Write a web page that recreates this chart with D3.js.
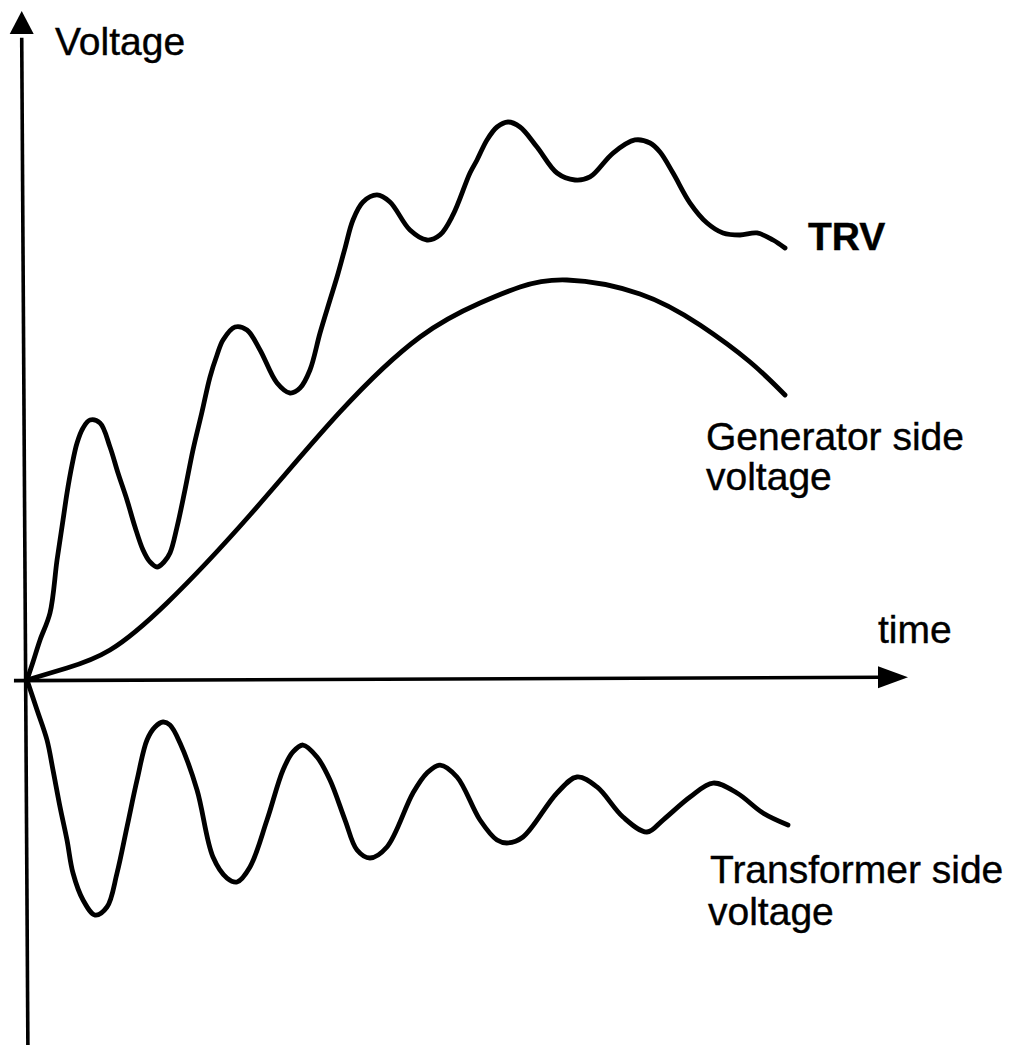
<!DOCTYPE html>
<html>
<head>
<meta charset="utf-8">
<script src="https://cdn.jsdelivr.net/npm/d3@7"></script>
<style>
  html, body { margin: 0; padding: 0; background: #fff; }
  text { font-family: "Liberation Sans", Arial, Helvetica, sans-serif; fill: #000; stroke: #000; stroke-width: 0.4px; }
</style>
</head>
<body>
<script>
var width = 1014;
var height = 1045;

// time axis runs 0..100 (arrow tip), voltage axis runs 0..100 (arrow tip)
var trvTime = [0, 0.68, 1.48, 2.61, 3.41, 4.09, 4.54, 5.11, 5.68, 6.36, 7.15, 8.29, 9.42, 10.33, 11.35, 12.26, 13.17, 13.96, 14.76, 15.55, 16.23, 17.03, 17.93, 18.84, 19.86, 20.77, 21.57, 22.25, 23.61, 24.97, 26.45, 28.38, 29.85, 30.99, 32.12, 33.26, 34.39, 35.19, 36.10, 37.00, 38.14, 39.73, 41.20, 43.47, 45.40, 46.88, 48.35, 50.28, 51.08, 52.21, 53.35, 54.60, 55.96, 57.89, 60.16, 62.20, 63.90, 66.52, 69.01, 70.72, 71.85, 73.33, 75.26, 77.19, 79.00, 80.93, 82.86, 84.68, 86.04];
var trvVolt = [0, 2.69, 5.98, 10.01, 17.94, 23.92, 27.95, 32.14, 35.43, 37.67, 38.86, 38.42, 34.83, 30.94, 26.91, 22.87, 19.43, 17.64, 16.89, 17.64, 18.98, 22.87, 28.40, 34.38, 40.06, 45.29, 48.58, 50.82, 52.77, 52.32, 49.33, 44.39, 42.90, 43.65, 46.34, 51.87, 56.80, 60.24, 64.57, 68.76, 71.45, 72.50, 71.45, 67.26, 65.77, 66.52, 69.51, 75.78, 77.73, 80.72, 82.66, 83.41, 82.66, 79.67, 75.78, 74.74, 75.19, 78.77, 80.72, 80.27, 78.92, 75.78, 71.30, 68.31, 66.82, 66.52, 66.82, 65.77, 64.57];

var genTime = [0, 4.54, 9.42, 15.89, 25.31, 35.53, 44.61, 51.42, 55.96, 61.29, 69.58, 76.39, 82.07, 86.04];
var genVolt = [0, 1.79, 4.48, 11.51, 24.66, 40.06, 51.27, 56.35, 58.74, 59.79, 57.70, 53.06, 47.53, 42.60];

var trfTime = [0, 1.14, 2.27, 2.95, 3.75, 4.54, 5.22, 6.36, 7.72, 9.08, 10.22, 11.35, 12.49, 13.62, 14.53, 15.44, 16.23, 17.37, 19.30, 21.11, 22.70, 23.84, 25.31, 27.24, 29.06, 30.19, 31.33, 32.92, 34.39, 36.10, 37.46, 38.93, 40.86, 43.81, 45.40, 46.88, 48.81, 51.42, 53.35, 54.60, 56.30, 60.16, 62.43, 64.70, 67.65, 70.37, 72.19, 75.26, 77.87, 80.59, 83.54, 86.38];
var trfVolt = [0, -4.48, -8.97, -13.45, -18.98, -23.92, -28.85, -32.88, -35.13, -33.93, -28.85, -21.97, -14.95, -8.97, -7.03, -6.28, -6.73, -9.42, -16.44, -26.46, -29.60, -30.19, -27.95, -20.93, -13.45, -10.76, -9.72, -11.51, -14.95, -20.93, -25.41, -26.61, -24.96, -16.89, -13.90, -12.71, -14.50, -20.93, -23.92, -24.36, -23.47, -16.89, -14.50, -15.99, -20.48, -22.72, -20.93, -17.49, -15.40, -16.89, -19.88, -21.67];

var svg = d3.select("body").append("svg")
    .attr("width", width)
    .attr("height", height);

var x = d3.scaleLinear().domain([0, 100]).range([27, 908]);
var y = d3.scaleLinear().domain([0, 100]).range([680, 11]);

function zip(ts, vs) {
    return ts.map(function (t, i) { return {t: t, v: vs[i]}; });
}

var wavy = d3.line()
    .x(function (d) { return x(d.t); })
    .y(function (d) { return y(d.v); })
    .curve(d3.curveCatmullRom.alpha(0.5));

var smooth = d3.line()
    .x(function (d) { return x(d.t); })
    .y(function (d) { return y(d.v); })
    .curve(d3.curveNatural);

// axes
var axes = svg.append("g").attr("class", "axes");
axes.append("line")
    .attr("x1", x(-1.48)).attr("y1", y(-0.1))
    .attr("x2", x(97)).attr("y2", y(0.4))
    .attr("stroke", "#000").attr("stroke-width", 3.6);
axes.append("line")
    .attr("x1", x(-0.6)).attr("y1", y(96))
    .attr("x2", x(0.1)).attr("y2", y(-54.6))
    .attr("stroke", "#000").attr("stroke-width", 3.6);

// arrow heads
var tipX = [x(100), y(0.4)];
axes.append("path")
    .attr("d", "M" + tipX[0] + "," + tipX[1] + " L" + (tipX[0] - 30) + "," + (tipX[1] - 11) +
        " L" + (tipX[0] - 30) + "," + (tipX[1] + 11) + " Z")
    .attr("fill", "#000");
var tipY = [x(-0.6), y(100)];
axes.append("path")
    .attr("d", "M" + tipY[0] + "," + tipY[1] + " L" + (tipY[0] - 12) + "," + (tipY[1] + 23) +
        " L" + (tipY[0] + 12) + "," + (tipY[1] + 23) + " Z")
    .attr("fill", "#000");

// curves
var curves = svg.append("g").attr("class", "curves")
    .attr("fill", "none")
    .attr("stroke", "#000")
    .attr("stroke-width", 4.8)
    .attr("stroke-linecap", "round")
    .attr("stroke-linejoin", "round");

curves.append("path").datum(zip(genTime, genVolt)).attr("d", smooth);
curves.selectAll("path.wave")
    .data([zip(trfTime, trfVolt), zip(trvTime, trvVolt)])
    .enter().append("path")
    .attr("class", "wave")
    .attr("d", wavy);

// labels
var labels = svg.append("g").attr("class", "labels").style("font-size", "39px");
labels.append("text").attr("x", 55).attr("y", 55).text("Voltage");
labels.append("text").attr("x", 878).attr("y", 643).text("time");
labels.append("text").attr("x", 808).attr("y", 250).style("font-weight", "bold").text("TRV");
labels.append("text").attr("x", 706).attr("y", 450).text("Generator side");
labels.append("text").attr("x", 706).attr("y", 490).text("voltage");
labels.append("text").attr("x", 710).attr("y", 883).text("Transformer side");
labels.append("text").attr("x", 708).attr("y", 925).text("voltage");
</script>
</body>
</html>
